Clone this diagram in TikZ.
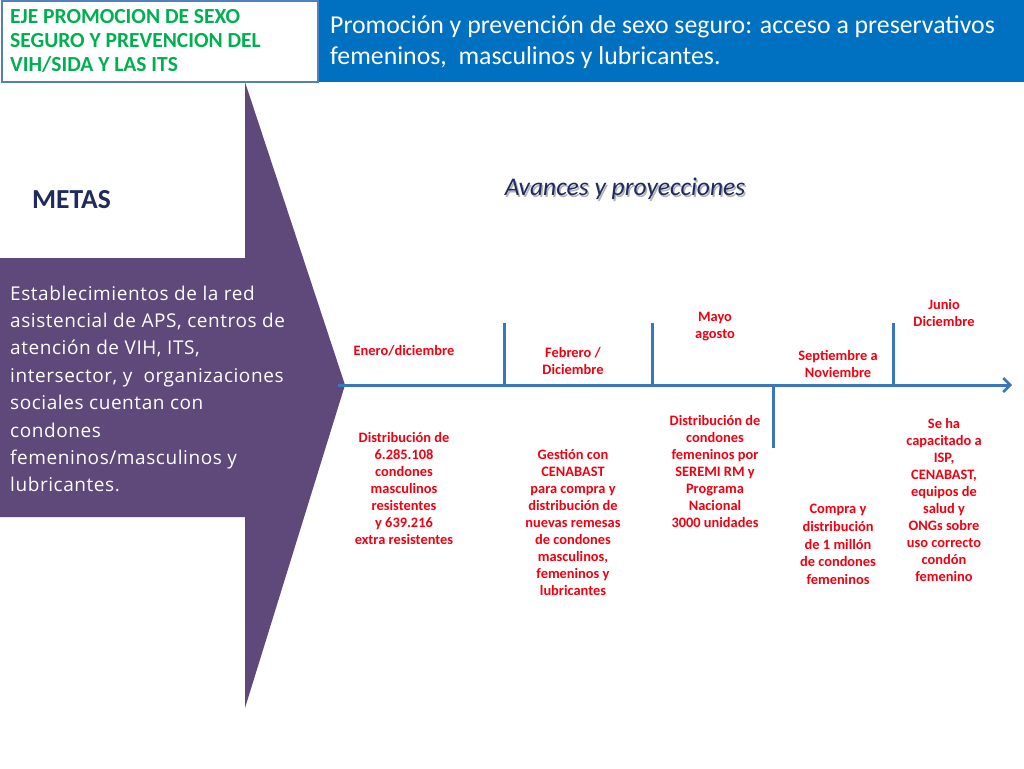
\documentclass[tikz,border=0pt]{standalone}
\usepackage{fontspec}
\setmainfont{Carlito}
\newfontfamily\bodyfont[LetterSpace=3]{Open Sans}
\usetikzlibrary{arrows.meta}
\definecolor{bandblue}{HTML}{0070C0}
\definecolor{boxblue}{HTML}{4F81BD}
\definecolor{hgreen}{HTML}{00B050}
\definecolor{purp}{HTML}{5F497A}
\definecolor{navy}{HTML}{1F2A5E}
\definecolor{axisblue}{HTML}{3A76BC}
\definecolor{tred}{HTML}{F00010}
\tikzset{
  lbl/.style={inner sep=0pt, align=center, text=tred, font=\fontsize{14.4}{17}\selectfont\bfseries},
  axisline/.style={draw=axisblue, line width=3pt},
  tickline/.style={draw=axisblue, line width=3pt},
}
\begin{document}
\begin{tikzpicture}[x=1pt,y=-1pt]
\useasboundingbox (0,0) rectangle (1024,768);
\fill[white] (0,0) rectangle (1024,768);
% purple arrow shape
\fill[purp] (0,258) -- (245,258) -- (245,82) -- (345,385) -- (245,708) -- (245,517) -- (0,517) -- cycle;
% header band
\fill[bandblue] (318,0) rectangle (1024,82);
\draw[boxblue, line width=1.5pt, fill=white] (2,1) rectangle (318,82);
\node[anchor=west, inner sep=0pt, align=left, text=hgreen, font=\fontsize{21.5}{24}\selectfont\bfseries] (eje) at (10,41)
  {EJE PROMOCION DE SEXO\\SEGURO Y PREVENCION DEL\\VIH/SIDA Y LAS ITS};
\node[anchor=west, inner sep=0pt, align=left, text=white, font=\fontsize{25.8}{31}\selectfont] (title) at (330,42.5)
  {Promoción y prevención de sexo seguro: acceso a preservativos\\femeninos,\ \ masculinos y lubricantes.};
% METAS
\node[anchor=west, inner sep=0pt, text=navy, font=\fontsize{27.5}{30}\selectfont\bfseries] (metas) at (32,200) {METAS};
\node[anchor=west, inner sep=0pt, align=left, text=white, font=\bodyfont\fontsize{19}{27.4}\selectfont] (goal) at (10,389)
  {Establecimientos de la red\\asistencial de APS, centros de\\atención de VIH, ITS,\\intersector, y\ \ organizaciones\\sociales cuentan con\\condones\\femeninos/masculinos y\\lubricantes.};
% Avances
\node[inner sep=0pt, text=gray!60, font=\fontsize{25.5}{30}\selectfont\itshape] (avsh) at (626.5,190.5) {Avances y proyecciones};
\node[inner sep=0pt, text=navy, font=\fontsize{25.5}{30}\selectfont\itshape] (av) at (625,189) {Avances y proyecciones};
% timeline
\coordinate (a0) at (338,385);
\coordinate (a1) at (1012,385);
\draw[axisline, -{Straight Barb[length=7pt,width=14pt,line width=2.5pt]}] (a0) -- (a1);
\coordinate (t1a) at (504,323); \coordinate (t1b) at (504,385);
\coordinate (t2a) at (652,323); \coordinate (t2b) at (652,385);
\coordinate (t3a) at (773,385); \coordinate (t3b) at (773,448);
\coordinate (t4a) at (893,323); \coordinate (t4b) at (893,385);
\draw[tickline] (t1a) -- (t1b);
\draw[tickline] (t2a) -- (t2b);
\draw[tickline] (t3a) -- (t3b);
\draw[tickline] (t4a) -- (t4b);
% period labels
\node[lbl] (p1) at (404,351) {Enero/diciembre};
\node[lbl] (p2) at (573,360.5) {Febrero /\\Diciembre};
\node[lbl] (p3) at (715,326.5) {Mayo\\agosto};
\node[lbl] (p4) at (838,363.5) {Septiembre a\\Noviembre};
\node[lbl] (p5) at (944,312.5) {Junio\\Diciembre};
% descriptions
\node[lbl] (d1) at (404,488) {Distribución de\\6.285.108\\condones\\masculinos\\resistentes\\y 639.216\\extra resistentes};
\node[lbl] (d2) at (573,522) {Gestión con\\CENABAST\\para compra y\\distribución de\\nuevas remesas\\de condones\\masculinos,\\femeninos y\\lubricantes};
\node[lbl] (d3) at (715,471) {Distribución de\\condones\\femeninos por\\SEREMI RM y\\Programa\\Nacional\\3000 unidades};
\node[lbl, font=\fontsize{14.4}{17.7}\selectfont\bfseries] (d4) at (838,544.5) {Compra y\\distribución\\de 1 millón\\de condones\\femeninos};
\node[lbl] (d5) at (944,500) {Se ha\\capacitado a\\ISP,\\CENABAST,\\equipos de\\salud y\\ONGs sobre\\uso correcto\\condón\\femenino};
\end{tikzpicture}
\end{document}
